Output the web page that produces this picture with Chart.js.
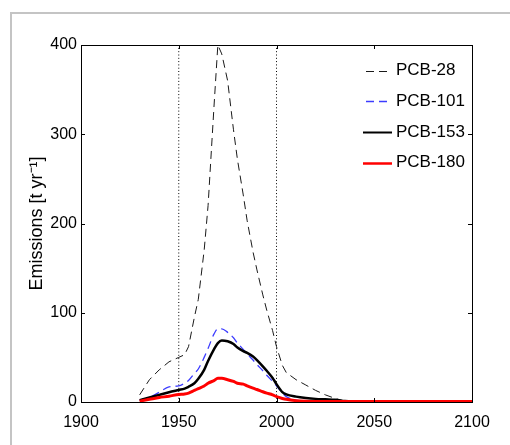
<!DOCTYPE html>
<html>
<head>
  <meta charset="UTF-8">
  <title>PCB emissions</title>
  <style>
    body { margin: 0; background: #fff; }
    .wrapper { position: relative; width: 510px; height: 445px; }
    .frame { position: absolute; left: 10px; top: 12px; right: 0; bottom: 0;
             border-left: 2px solid #c4c4c4; border-top: 2px solid #c4c4c4; }
    canvas { position: absolute; left: 0; top: 0; }
  </style>
</head>
<body>
  <div class="wrapper">
    <div class="frame"></div>
    <canvas id="emChart" width="510" height="445"></canvas>
  </div>

  <script src="https://cdn.jsdelivr.net/npm/chart.js@4.4.1/dist/chart.umd.min.js"></script>
  <script>
    // values (t/yr)
    const years  = [1930, 1935, 1940, 1945, 1950, 1953, 1955, 1958, 1960, 1963, 1965, 1968, 1970, 1972,
                    1975, 1978, 1980, 1983, 1985, 1988, 1990, 1993, 1995, 1998, 2000, 2003, 2005,
                    2010, 2015, 2020, 2025, 2030, 2035, 2040, 2050, 2100];
    const pcb28  = [8, 25, 36, 45, 50, 53, 62, 95, 115, 170, 220, 330, 400, 390,
                    360, 305, 272, 232, 203, 168, 148, 120, 103, 80, 62, 41, 33,
                    25, 19, 13, 8, 4, 1, 0, 0, 0];
    const pcb101 = [2, 5, 11, 17, 18, 21, 24, 32, 37, 50, 60, 76, 82, 82,
                    78, 72, 66, 59, 54, 47, 42, 35, 30, 23, 18, 10, 6,
                    2, 1, 0.5, 0.3, 0.2, 0.1, 0, 0, 0];
    const pcb153 = [2, 5, 8, 11, 13.5, 15, 17, 21, 26, 36, 46, 59, 66, 69,
                    68, 65, 61, 57, 55, 51, 47, 40, 35, 27, 20, 11, 8.5,
                    6, 4.5, 3.5, 3, 2.5, 1, 0.5, 0.3, 0.3];
    const pcb180 = [1, 3, 5, 6.5, 8.5, 9, 10, 13, 15, 18, 21, 24, 26.5, 26.5,
                    25, 23, 21, 20, 18, 15.5, 14, 11.5, 10, 8, 6, 4, 3,
                    1.5, 0.8, 0.5, 0.5, 0.5, 0.5, 0.5, 0.5, 0.5];
    const guideYears = [1950, 2000];
    const xTicks = [1900, 1950, 2000, 2050, 2100];
    const yTicks = [0, 100, 200, 300, 400];

    const pts = (vals) => years.map((y, i) => ({ x: y, y: vals[i] }));
    const FONT = '"Liberation Sans", Arial, sans-serif';

    // inward tick marks and full box, matlab style
    const boxPlugin = {
      id: 'box',
      afterDraw(chart) {
        const { ctx, chartArea: a, scales: { x, y } } = chart;
        ctx.save();
        ctx.strokeStyle = '#000';
        ctx.lineWidth = 1;
        ctx.strokeRect(Math.round(a.left) + 0.5, Math.round(a.top) + 0.5,
                       Math.round(a.right - a.left), Math.round(a.bottom - a.top));
        ctx.beginPath();
        xTicks.forEach(v => {
          const px = Math.round(x.getPixelForValue(v)) + 0.5;
          ctx.moveTo(px, a.bottom); ctx.lineTo(px, a.bottom - 4);
          ctx.moveTo(px, a.top); ctx.lineTo(px, a.top + 4);
        });
        yTicks.forEach(v => {
          const py = Math.round(y.getPixelForValue(v)) + 0.5;
          ctx.moveTo(a.left, py); ctx.lineTo(a.left + 4, py);
          ctx.moveTo(a.right, py); ctx.lineTo(a.right - 4, py);
        });
        ctx.stroke();
        ctx.restore();
      }
    };

    // legend inside the top right of the axes
    const legendPlugin = {
      id: 'insideLegend',
      afterDraw(chart) {
        const ctx = chart.ctx;
        const sets = chart.data.datasets.filter(d => !d.guide);
        ctx.save();
        ctx.font = '17px ' + FONT;
        ctx.textBaseline = 'middle';
        ctx.fillStyle = '#000';
        sets.forEach((d, i) => {
          const ly = 70.5 + i * 30.7;
          const x0 = d.borderDash ? 366 : 363;
          const x1 = d.borderDash ? 388 : 392;
          ctx.strokeStyle = d.borderColor;
          ctx.lineWidth = d.legendWidth;
          ctx.setLineDash(d.borderDash || []);
          ctx.beginPath();
          ctx.moveTo(x0, Math.round(ly) + 0.5);
          ctx.lineTo(x1, Math.round(ly) + 0.5);
          ctx.stroke();
          ctx.fillText(d.label, 396, ly);
        });
        ctx.restore();
      }
    };

    const guides = guideYears.map(g => ({
      label: '', guide: true,
      data: [{ x: g, y: 0 }, { x: g, y: 400 }],
      borderColor: '#000', borderWidth: 1, borderDash: [1, 2.3],
      pointRadius: 0, order: 5
    }));

    const ctx = document.getElementById('emChart').getContext('2d');
    new Chart(ctx, {
      type: 'line',
      data: {
        datasets: [
          {
            label: 'PCB-28', data: pts(pcb28),
            borderColor: '#1a1a1a', borderWidth: 1, borderDash: [8, 5],
            legendWidth: 1, tension: 0, pointRadius: 0, order: 4
          },
          {
            label: 'PCB-101', data: pts(pcb101),
            borderColor: '#3c3cff', borderWidth: 1.3, borderDash: [8, 5],
            legendWidth: 1.5, cubicInterpolationMode: 'monotone', pointRadius: 0, order: 3
          },
          {
            label: 'PCB-153', data: pts(pcb153),
            borderColor: '#000', borderWidth: 2.5,
            legendWidth: 2, cubicInterpolationMode: 'monotone', pointRadius: 0, order: 2
          },
          {
            label: 'PCB-180', data: pts(pcb180),
            borderColor: '#ff0000', borderWidth: 3,
            legendWidth: 2.5, cubicInterpolationMode: 'monotone', pointRadius: 0, order: 1
          },
          ...guides
        ]
      },
      options: {
        responsive: false,
        animation: false,
        layout: { padding: { top: 45, right: 38, left: 0, bottom: 0 } },
        scales: {
          x: {
            type: 'linear', min: 1900, max: 2100,
            afterFit: s => { s.height = 43; },
            afterBuildTicks: s => { s.ticks = xTicks.map(v => ({ value: v })); },
            grid: { display: false, drawTicks: false },
            border: { display: false },
            ticks: {
              padding: 11, color: '#000', maxRotation: 0,
              callback: v => String(v),
              font: { family: FONT, size: 16 }
            }
          },
          y: {
            min: 0, max: 400,
            afterFit: s => { s.width = 81; },
            afterBuildTicks: s => { s.ticks = yTicks.map(v => ({ value: v })); },
            grid: { display: false, drawTicks: false },
            border: { display: false },
            ticks: {
              padding: 4, color: '#000',
              callback: v => String(v),
              font: { family: FONT, size: 16 }
            },
            title: {
              display: true, text: 'Emissions [t yr\u207B\u00B9]', color: '#000',
              padding: { top: 26, bottom: 0 },
              font: { family: FONT, size: 18 }
            }
          }
        },
        plugins: {
          legend: { display: false },
          tooltip: { enabled: false }
        }
      },
      plugins: [boxPlugin, legendPlugin]
    });
  </script>
</body>
</html>
